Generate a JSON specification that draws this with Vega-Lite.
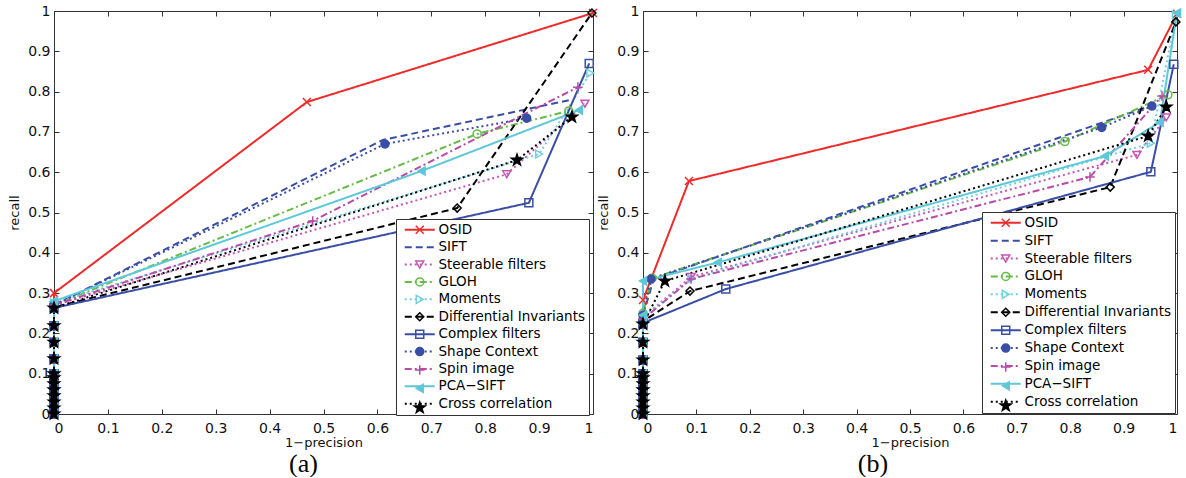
{
  "$schema": "https://vega.github.io/schema/vega-lite/v6.json",
  "padding": {"left": 8, "top": 4, "right": 0, "bottom": 0},
  "spacing": -3,
  "config": {
    "font": "DejaVu Sans",
    "view": {"stroke": null},
    "axis": {"grid": false, "domainColor": "#333", "tickColor": "#333", "labelColor": "#111", "labelFont": "DejaVu Sans", "labelFontSize": 14, "titleFont": "DejaVu Sans", "titleFontSize": 13, "titleFontWeight": "normal", "titleColor": "#111"}
  },
  "resolve": {"scale": {"color": "independent", "strokeDash": "independent", "shape": "independent", "fill": "independent", "stroke": "independent"}},
  "datasets": {
    "a": [
      {"m":"OSID","x":0,"y":0},{"m":"OSID","x":0,"y":0.015},{"m":"OSID","x":0,"y":0.03},{"m":"OSID","x":0,"y":0.045},{"m":"OSID","x":0,"y":0.06},{"m":"OSID","x":0,"y":0.075},{"m":"OSID","x":0,"y":0.09},{"m":"OSID","x":0,"y":0.1},{"m":"OSID","x":0,"y":0.137},{"m":"OSID","x":0,"y":0.178},{"m":"OSID","x":0,"y":0.219},{"m":"OSID","x":0,"y":0.30},{"m":"OSID","x":0.469,"y":0.774},{"m":"OSID","x":1,"y":0.995},
      {"m":"SIFT","x":0,"y":0},{"m":"SIFT","x":0,"y":0.015},{"m":"SIFT","x":0,"y":0.03},{"m":"SIFT","x":0,"y":0.045},{"m":"SIFT","x":0,"y":0.06},{"m":"SIFT","x":0,"y":0.075},{"m":"SIFT","x":0,"y":0.09},{"m":"SIFT","x":0,"y":0.1},{"m":"SIFT","x":0,"y":0.137},{"m":"SIFT","x":0,"y":0.178},{"m":"SIFT","x":0,"y":0.219},{"m":"SIFT","x":0,"y":0.27},{"m":"SIFT","x":0.61,"y":0.68},{"m":"SIFT","x":0.96,"y":0.78},
      {"m":"Steerable filters","x":0,"y":0},{"m":"Steerable filters","x":0,"y":0.015},{"m":"Steerable filters","x":0,"y":0.03},{"m":"Steerable filters","x":0,"y":0.045},{"m":"Steerable filters","x":0,"y":0.06},{"m":"Steerable filters","x":0,"y":0.075},{"m":"Steerable filters","x":0,"y":0.09},{"m":"Steerable filters","x":0,"y":0.1},{"m":"Steerable filters","x":0,"y":0.137},{"m":"Steerable filters","x":0,"y":0.178},{"m":"Steerable filters","x":0,"y":0.219},{"m":"Steerable filters","x":0,"y":0.27},{"m":"Steerable filters","x":0.84,"y":0.595},{"m":"Steerable filters","x":0.985,"y":0.77},
      {"m":"GLOH","x":0,"y":0},{"m":"GLOH","x":0,"y":0.015},{"m":"GLOH","x":0,"y":0.03},{"m":"GLOH","x":0,"y":0.045},{"m":"GLOH","x":0,"y":0.06},{"m":"GLOH","x":0,"y":0.075},{"m":"GLOH","x":0,"y":0.09},{"m":"GLOH","x":0,"y":0.1},{"m":"GLOH","x":0,"y":0.137},{"m":"GLOH","x":0,"y":0.178},{"m":"GLOH","x":0,"y":0.219},{"m":"GLOH","x":0,"y":0.27},{"m":"GLOH","x":0.785,"y":0.695},{"m":"GLOH","x":0.955,"y":0.752},
      {"m":"Moments","x":0,"y":0},{"m":"Moments","x":0,"y":0.015},{"m":"Moments","x":0,"y":0.03},{"m":"Moments","x":0,"y":0.045},{"m":"Moments","x":0,"y":0.06},{"m":"Moments","x":0,"y":0.075},{"m":"Moments","x":0,"y":0.09},{"m":"Moments","x":0,"y":0.1},{"m":"Moments","x":0,"y":0.137},{"m":"Moments","x":0,"y":0.178},{"m":"Moments","x":0,"y":0.219},{"m":"Moments","x":0,"y":0.275},{"m":"Moments","x":0.9,"y":0.645},{"m":"Moments","x":0.995,"y":0.846},
      {"m":"Differential Invariants","x":0,"y":0},{"m":"Differential Invariants","x":0,"y":0.015},{"m":"Differential Invariants","x":0,"y":0.03},{"m":"Differential Invariants","x":0,"y":0.045},{"m":"Differential Invariants","x":0,"y":0.06},{"m":"Differential Invariants","x":0,"y":0.075},{"m":"Differential Invariants","x":0,"y":0.09},{"m":"Differential Invariants","x":0,"y":0.1},{"m":"Differential Invariants","x":0,"y":0.137},{"m":"Differential Invariants","x":0,"y":0.178},{"m":"Differential Invariants","x":0,"y":0.219},{"m":"Differential Invariants","x":0,"y":0.265},{"m":"Differential Invariants","x":0.748,"y":0.511},{"m":"Differential Invariants","x":0.998,"y":0.995},
      {"m":"Complex filters","x":0,"y":0},{"m":"Complex filters","x":0,"y":0.015},{"m":"Complex filters","x":0,"y":0.03},{"m":"Complex filters","x":0,"y":0.045},{"m":"Complex filters","x":0,"y":0.06},{"m":"Complex filters","x":0,"y":0.075},{"m":"Complex filters","x":0,"y":0.09},{"m":"Complex filters","x":0,"y":0.1},{"m":"Complex filters","x":0,"y":0.137},{"m":"Complex filters","x":0,"y":0.178},{"m":"Complex filters","x":0,"y":0.219},{"m":"Complex filters","x":0,"y":0.263},{"m":"Complex filters","x":0.881,"y":0.524},{"m":"Complex filters","x":0.993,"y":0.87},
      {"m":"Shape Context","x":0,"y":0},{"m":"Shape Context","x":0,"y":0.015},{"m":"Shape Context","x":0,"y":0.03},{"m":"Shape Context","x":0,"y":0.045},{"m":"Shape Context","x":0,"y":0.06},{"m":"Shape Context","x":0,"y":0.075},{"m":"Shape Context","x":0,"y":0.09},{"m":"Shape Context","x":0,"y":0.1},{"m":"Shape Context","x":0,"y":0.137},{"m":"Shape Context","x":0,"y":0.178},{"m":"Shape Context","x":0,"y":0.219},{"m":"Shape Context","x":0,"y":0.27},{"m":"Shape Context","x":0.614,"y":0.67},{"m":"Shape Context","x":0.877,"y":0.734},
      {"m":"Spin image","x":0,"y":0},{"m":"Spin image","x":0,"y":0.015},{"m":"Spin image","x":0,"y":0.03},{"m":"Spin image","x":0,"y":0.045},{"m":"Spin image","x":0,"y":0.06},{"m":"Spin image","x":0,"y":0.075},{"m":"Spin image","x":0,"y":0.09},{"m":"Spin image","x":0,"y":0.1},{"m":"Spin image","x":0,"y":0.137},{"m":"Spin image","x":0,"y":0.178},{"m":"Spin image","x":0,"y":0.219},{"m":"Spin image","x":0,"y":0.27},{"m":"Spin image","x":0.48,"y":0.479},{"m":"Spin image","x":0.972,"y":0.811},
      {"m":"PCA−SIFT","x":0,"y":0},{"m":"PCA−SIFT","x":0,"y":0.015},{"m":"PCA−SIFT","x":0,"y":0.03},{"m":"PCA−SIFT","x":0,"y":0.045},{"m":"PCA−SIFT","x":0,"y":0.06},{"m":"PCA−SIFT","x":0,"y":0.075},{"m":"PCA−SIFT","x":0,"y":0.09},{"m":"PCA−SIFT","x":0,"y":0.1},{"m":"PCA−SIFT","x":0,"y":0.137},{"m":"PCA−SIFT","x":0,"y":0.178},{"m":"PCA−SIFT","x":0,"y":0.219},{"m":"PCA−SIFT","x":0,"y":0.28},{"m":"PCA−SIFT","x":0.682,"y":0.603},{"m":"PCA−SIFT","x":0.974,"y":0.754},
      {"m":"Cross correlation","x":0,"y":0},{"m":"Cross correlation","x":0,"y":0.015},{"m":"Cross correlation","x":0,"y":0.03},{"m":"Cross correlation","x":0,"y":0.045},{"m":"Cross correlation","x":0,"y":0.06},{"m":"Cross correlation","x":0,"y":0.075},{"m":"Cross correlation","x":0,"y":0.09},{"m":"Cross correlation","x":0,"y":0.1},{"m":"Cross correlation","x":0,"y":0.137},{"m":"Cross correlation","x":0,"y":0.178},{"m":"Cross correlation","x":0,"y":0.219},{"m":"Cross correlation","x":0,"y":0.263},{"m":"Cross correlation","x":0.859,"y":0.63},{"m":"Cross correlation","x":0.961,"y":0.737}
    ],
    "b": [
      {"m":"OSID","x":0,"y":0},{"m":"OSID","x":0,"y":0.015},{"m":"OSID","x":0,"y":0.03},{"m":"OSID","x":0,"y":0.045},{"m":"OSID","x":0,"y":0.06},{"m":"OSID","x":0,"y":0.075},{"m":"OSID","x":0,"y":0.09},{"m":"OSID","x":0,"y":0.1},{"m":"OSID","x":0,"y":0.134},{"m":"OSID","x":0,"y":0.178},{"m":"OSID","x":0,"y":0.223},{"m":"OSID","x":0,"y":0.283},{"m":"OSID","x":0.086,"y":0.578},{"m":"OSID","x":0.946,"y":0.854},{"m":"OSID","x":1,"y":0.993},
      {"m":"SIFT","x":0,"y":0},{"m":"SIFT","x":0,"y":0.015},{"m":"SIFT","x":0,"y":0.03},{"m":"SIFT","x":0,"y":0.045},{"m":"SIFT","x":0,"y":0.06},{"m":"SIFT","x":0,"y":0.075},{"m":"SIFT","x":0,"y":0.09},{"m":"SIFT","x":0,"y":0.1},{"m":"SIFT","x":0,"y":0.134},{"m":"SIFT","x":0,"y":0.178},{"m":"SIFT","x":0,"y":0.223},{"m":"SIFT","x":0,"y":0.245},{"m":"SIFT","x":0.02,"y":0.335},{"m":"SIFT","x":0.953,"y":0.766},
      {"m":"Steerable filters","x":0,"y":0},{"m":"Steerable filters","x":0,"y":0.015},{"m":"Steerable filters","x":0,"y":0.03},{"m":"Steerable filters","x":0,"y":0.045},{"m":"Steerable filters","x":0,"y":0.06},{"m":"Steerable filters","x":0,"y":0.075},{"m":"Steerable filters","x":0,"y":0.09},{"m":"Steerable filters","x":0,"y":0.1},{"m":"Steerable filters","x":0,"y":0.134},{"m":"Steerable filters","x":0,"y":0.178},{"m":"Steerable filters","x":0,"y":0.223},{"m":"Steerable filters","x":0,"y":0.24},{"m":"Steerable filters","x":0.09,"y":0.34},{"m":"Steerable filters","x":0.925,"y":0.643},{"m":"Steerable filters","x":0.98,"y":0.736},
      {"m":"GLOH","x":0,"y":0},{"m":"GLOH","x":0,"y":0.015},{"m":"GLOH","x":0,"y":0.03},{"m":"GLOH","x":0,"y":0.045},{"m":"GLOH","x":0,"y":0.06},{"m":"GLOH","x":0,"y":0.075},{"m":"GLOH","x":0,"y":0.09},{"m":"GLOH","x":0,"y":0.1},{"m":"GLOH","x":0,"y":0.134},{"m":"GLOH","x":0,"y":0.178},{"m":"GLOH","x":0,"y":0.223},{"m":"GLOH","x":0,"y":0.25},{"m":"GLOH","x":0.017,"y":0.337},{"m":"GLOH","x":0.79,"y":0.676},{"m":"GLOH","x":0.983,"y":0.792},
      {"m":"Moments","x":0,"y":0},{"m":"Moments","x":0,"y":0.015},{"m":"Moments","x":0,"y":0.03},{"m":"Moments","x":0,"y":0.045},{"m":"Moments","x":0,"y":0.06},{"m":"Moments","x":0,"y":0.075},{"m":"Moments","x":0,"y":0.09},{"m":"Moments","x":0,"y":0.1},{"m":"Moments","x":0,"y":0.134},{"m":"Moments","x":0,"y":0.178},{"m":"Moments","x":0,"y":0.223},{"m":"Moments","x":0,"y":0.24},{"m":"Moments","x":0.09,"y":0.335},{"m":"Moments","x":0.951,"y":0.672},{"m":"Moments","x":0.998,"y":0.99},
      {"m":"Differential Invariants","x":0,"y":0},{"m":"Differential Invariants","x":0,"y":0.015},{"m":"Differential Invariants","x":0,"y":0.03},{"m":"Differential Invariants","x":0,"y":0.045},{"m":"Differential Invariants","x":0,"y":0.06},{"m":"Differential Invariants","x":0,"y":0.075},{"m":"Differential Invariants","x":0,"y":0.09},{"m":"Differential Invariants","x":0,"y":0.1},{"m":"Differential Invariants","x":0,"y":0.134},{"m":"Differential Invariants","x":0,"y":0.178},{"m":"Differential Invariants","x":0,"y":0.223},{"m":"Differential Invariants","x":0,"y":0.23},{"m":"Differential Invariants","x":0.088,"y":0.305},{"m":"Differential Invariants","x":0.875,"y":0.563},{"m":"Differential Invariants","x":0.998,"y":0.973},
      {"m":"Complex filters","x":0,"y":0},{"m":"Complex filters","x":0,"y":0.015},{"m":"Complex filters","x":0,"y":0.03},{"m":"Complex filters","x":0,"y":0.045},{"m":"Complex filters","x":0,"y":0.06},{"m":"Complex filters","x":0,"y":0.075},{"m":"Complex filters","x":0,"y":0.09},{"m":"Complex filters","x":0,"y":0.1},{"m":"Complex filters","x":0,"y":0.134},{"m":"Complex filters","x":0,"y":0.178},{"m":"Complex filters","x":0,"y":0.223},{"m":"Complex filters","x":0,"y":0.226},{"m":"Complex filters","x":0.155,"y":0.31},{"m":"Complex filters","x":0.951,"y":0.601},{"m":"Complex filters","x":0.994,"y":0.868},
      {"m":"Shape Context","x":0,"y":0},{"m":"Shape Context","x":0,"y":0.015},{"m":"Shape Context","x":0,"y":0.03},{"m":"Shape Context","x":0,"y":0.045},{"m":"Shape Context","x":0,"y":0.06},{"m":"Shape Context","x":0,"y":0.075},{"m":"Shape Context","x":0,"y":0.09},{"m":"Shape Context","x":0,"y":0.1},{"m":"Shape Context","x":0,"y":0.134},{"m":"Shape Context","x":0,"y":0.178},{"m":"Shape Context","x":0,"y":0.223},{"m":"Shape Context","x":0,"y":0.245},{"m":"Shape Context","x":0.015,"y":0.335},{"m":"Shape Context","x":0.859,"y":0.711},{"m":"Shape Context","x":0.953,"y":0.764},
      {"m":"Spin image","x":0,"y":0},{"m":"Spin image","x":0,"y":0.015},{"m":"Spin image","x":0,"y":0.03},{"m":"Spin image","x":0,"y":0.045},{"m":"Spin image","x":0,"y":0.06},{"m":"Spin image","x":0,"y":0.075},{"m":"Spin image","x":0,"y":0.09},{"m":"Spin image","x":0,"y":0.1},{"m":"Spin image","x":0,"y":0.134},{"m":"Spin image","x":0,"y":0.178},{"m":"Spin image","x":0,"y":0.223},{"m":"Spin image","x":0,"y":0.235},{"m":"Spin image","x":0.09,"y":0.335},{"m":"Spin image","x":0.837,"y":0.588},{"m":"Spin image","x":0.972,"y":0.789},
      {"m":"PCA−SIFT","x":0,"y":0},{"m":"PCA−SIFT","x":0,"y":0.015},{"m":"PCA−SIFT","x":0,"y":0.03},{"m":"PCA−SIFT","x":0,"y":0.045},{"m":"PCA−SIFT","x":0,"y":0.06},{"m":"PCA−SIFT","x":0,"y":0.075},{"m":"PCA−SIFT","x":0,"y":0.09},{"m":"PCA−SIFT","x":0,"y":0.1},{"m":"PCA−SIFT","x":0,"y":0.134},{"m":"PCA−SIFT","x":0,"y":0.178},{"m":"PCA−SIFT","x":0,"y":0.223},{"m":"PCA−SIFT","x":0,"y":0.245},{"m":"PCA−SIFT","x":0,"y":0.33},{"m":"PCA−SIFT","x":0.14,"y":0.376},{"m":"PCA−SIFT","x":0.865,"y":0.64},{"m":"PCA−SIFT","x":0.968,"y":0.724},{"m":"PCA−SIFT","x":1,"y":0.995},
      {"m":"Cross correlation","x":0,"y":0},{"m":"Cross correlation","x":0,"y":0.015},{"m":"Cross correlation","x":0,"y":0.03},{"m":"Cross correlation","x":0,"y":0.045},{"m":"Cross correlation","x":0,"y":0.06},{"m":"Cross correlation","x":0,"y":0.075},{"m":"Cross correlation","x":0,"y":0.09},{"m":"Cross correlation","x":0,"y":0.1},{"m":"Cross correlation","x":0,"y":0.134},{"m":"Cross correlation","x":0,"y":0.178},{"m":"Cross correlation","x":0,"y":0.223},{"m":"Cross correlation","x":0.041,"y":0.33},{"m":"Cross correlation","x":0.946,"y":0.69},{"m":"Cross correlation","x":0.98,"y":0.762}
    ]
  },
  "hconcat": [
    {
      "width": 539, "height": 403,
      "data": {"name": "a"},
      "title": {"text": "(a)", "orient": "bottom", "font": "Liberation Serif", "fontSize": 26, "fontWeight": "normal", "color": "#000", "offset": 2, "anchor": "middle", "dx": -20},
      "resolve": {"axis": {"x": "independent", "y": "independent"}},
      "layer": [
        {
          "mark": {"type": "line", "strokeWidth": 2, "strokeCap": "butt"},
          "encoding": {
            "x": {"field": "x", "type": "quantitative", "scale": {"domain": [0, 1], "nice": false}, "axis": {"orient": "bottom", "title": "1−precision", "values": [0,0.1,0.2,0.3,0.4,0.5,0.6,0.7,0.8,0.9,1], "format": "~g", "tickSize": -5, "labelPadding": 12, "titlePadding": 1}},
            "y": {"field": "y", "type": "quantitative", "scale": {"domain": [0, 1], "nice": false}, "axis": {"orient": "left", "title": "recall", "values": [0,0.1,0.2,0.3,0.4,0.5,0.6,0.7,0.8,0.9,1], "format": "~g", "tickSize": -5, "labelPadding": 9, "titlePadding": 6}},
            "color": {"field": "m", "type": "nominal",
              "scale": {"domain": ["OSID","SIFT","Steerable filters","GLOH","Moments","Differential Invariants","Complex filters","Shape Context","Spin image","PCA−SIFT","Cross correlation"], "range": ["#ee2b2b","#3b4ea6","#c455b2","#66bb47","#72d0e0","#000000","#3b4ea6","#3b4ea6","#b84aa8","#5ec7d8","#000000"]},
              "legend": {"orient": "none", "legendX": 342, "legendY": 208, "title": null, "symbolType": "M-3.75,0H3.75", "symbolSize": 64, "symbolStrokeWidth": 2, "labelFont": "DejaVu Sans", "labelFontSize": 13.5, "labelColor": "#000", "labelOffset": 12, "labelLimit": 300, "padding": 4, "rowPadding": 2.4, "strokeColor": "#333", "fillColor": "white", "symbolOffset": 13}},
            "strokeDash": {"field": "m", "type": "nominal",
              "scale": {"domain": ["OSID","SIFT","Steerable filters","GLOH","Moments","Differential Invariants","Complex filters","Shape Context","Spin image","PCA−SIFT","Cross correlation"], "range": [[1,0],[7,4],[2,3],[7,3,2,3],[2,3],[7,4],[1,0],[2,3],[7,3,2,3],[1,0],[2,3]]},
              "legend": {"orient": "none", "legendX": 342, "legendY": 208, "title": null, "symbolType": "M-3.75,0H3.75", "symbolSize": 64, "symbolStrokeWidth": 2, "labelFont": "DejaVu Sans", "labelFontSize": 13.5, "labelColor": "#000", "labelOffset": 12, "labelLimit": 300, "padding": 4, "rowPadding": 2.4, "strokeColor": "#333", "fillColor": "white", "symbolOffset": 13}},
            "order": {"field": "y", "type": "quantitative"}
          }
        },
        {
          "mark": {"type": "point", "filled": true, "opacity": 1, "strokeWidth": 1.5, "size": 64},
          "encoding": {
            "x": {"field": "x", "type": "quantitative", "axis": {"orient": "top", "labels": false, "title": null, "values": [0,0.1,0.2,0.3,0.4,0.5,0.6,0.7,0.8,0.9,1], "tickSize": -5, "minExtent": 0}},
            "y": {"field": "y", "type": "quantitative", "axis": {"orient": "right", "labels": false, "title": null, "values": [0,0.1,0.2,0.3,0.4,0.5,0.6,0.7,0.8,0.9,1], "tickSize": -5, "minExtent": 0}},
            "shape": {"field": "m", "type": "nominal",
              "scale": {"domain": ["OSID","SIFT","Steerable filters","GLOH","Moments","Differential Invariants","Complex filters","Shape Context","Spin image","PCA−SIFT","Cross correlation"," "], "range": ["M-1,-1L1,1M-1,1L1,-1","M0,0","triangle-down","circle","triangle-right","diamond","square","circle","M-1.2,0H1.2M0,-1.2V1.2","triangle-left","M0,-1.45L0.34,-0.47L1.38,-0.45L0.55,0.18L0.85,1.17L0,0.58L-0.85,1.17L-0.55,0.18L-1.38,-0.45L-0.34,-0.47Z","M0,0"]},
              "legend": {"orient": "none", "legendX": 342, "legendY": 208, "title": null, "symbolSize": 64, "symbolStrokeWidth": 1.5, "labelFont": "DejaVu Sans", "labelFontSize": 13.5, "labelOpacity": 0, "labelExpr": "' '", "labelOffset": 12, "labelLimit": 300, "padding": 4, "rowPadding": 2.4, "symbolOffset": 13}},
            "stroke": {"field": "m", "type": "nominal",
              "scale": {"domain": ["OSID","SIFT","Steerable filters","GLOH","Moments","Differential Invariants","Complex filters","Shape Context","Spin image","PCA−SIFT","Cross correlation"," "], "range": ["#ee2b2b","#3b4ea6","#c455b2","#66bb47","#72d0e0","#000000","#3b4ea6","#3b4ea6","#b84aa8","#5ec7d8","#000000","transparent"]},
              "legend": {"orient": "none", "legendX": 342, "legendY": 208, "title": null, "symbolSize": 64, "symbolStrokeWidth": 1.5, "labelFont": "DejaVu Sans", "labelFontSize": 13.5, "labelOpacity": 0, "labelExpr": "' '", "labelOffset": 12, "labelLimit": 300, "padding": 4, "rowPadding": 2.4, "symbolOffset": 13}},
            "fill": {"field": "m", "type": "nominal",
              "scale": {"domain": ["OSID","SIFT","Steerable filters","GLOH","Moments","Differential Invariants","Complex filters","Shape Context","Spin image","PCA−SIFT","Cross correlation"," "], "range": ["transparent","transparent","transparent","transparent","transparent","transparent","transparent","#3b4ea6","transparent","#5ec7d8","#000000","transparent"]},
              "legend": {"orient": "none", "legendX": 342, "legendY": 208, "title": null, "symbolSize": 64, "symbolStrokeWidth": 1.5, "labelFont": "DejaVu Sans", "labelFontSize": 13.5, "labelOpacity": 0, "labelExpr": "' '", "labelOffset": 12, "labelLimit": 300, "padding": 4, "rowPadding": 2.4, "symbolOffset": 13}}
          }
        }
      ]
    },
    {
      "width": 534, "height": 403,
      "data": {"name": "b"},
      "title": {"text": "(b)", "orient": "bottom", "font": "Liberation Serif", "fontSize": 26, "fontWeight": "normal", "color": "#000", "offset": 2, "anchor": "middle", "dx": -37},
      "resolve": {"axis": {"x": "independent", "y": "independent"}},
      "layer": [
        {
          "mark": {"type": "line", "strokeWidth": 2, "strokeCap": "butt"},
          "encoding": {
            "x": {"field": "x", "type": "quantitative", "scale": {"domain": [0, 1], "nice": false}, "axis": {"orient": "bottom", "title": "1−precision", "values": [0,0.1,0.2,0.3,0.4,0.5,0.6,0.7,0.8,0.9,1], "format": "~g", "tickSize": -5, "labelPadding": 12, "titlePadding": 1}},
            "y": {"field": "y", "type": "quantitative", "scale": {"domain": [0, 1], "nice": false}, "axis": {"orient": "left", "title": "recall", "values": [0,0.1,0.2,0.3,0.4,0.5,0.6,0.7,0.8,0.9,1], "format": "~g", "tickSize": -5, "labelPadding": 9, "titlePadding": 6}},
            "color": {"field": "m", "type": "nominal",
              "scale": {"domain": ["OSID","SIFT","Steerable filters","GLOH","Moments","Differential Invariants","Complex filters","Shape Context","Spin image","PCA−SIFT","Cross correlation"], "range": ["#ee2b2b","#3b4ea6","#c455b2","#66bb47","#72d0e0","#000000","#3b4ea6","#3b4ea6","#b84aa8","#5ec7d8","#000000"]},
              "legend": {"orient": "none", "legendX": 339, "legendY": 201, "title": null, "symbolType": "M-3.75,0H3.75", "symbolSize": 64, "symbolStrokeWidth": 2, "labelFont": "DejaVu Sans", "labelFontSize": 13.5, "labelColor": "#000", "labelOffset": 12, "labelLimit": 300, "padding": 4, "rowPadding": 2.9, "strokeColor": "#333", "fillColor": "white", "symbolOffset": 13}},
            "strokeDash": {"field": "m", "type": "nominal",
              "scale": {"domain": ["OSID","SIFT","Steerable filters","GLOH","Moments","Differential Invariants","Complex filters","Shape Context","Spin image","PCA−SIFT","Cross correlation"], "range": [[1,0],[7,4],[2,3],[7,3,2,3],[2,3],[7,4],[1,0],[2,3],[7,3,2,3],[1,0],[2,3]]},
              "legend": {"orient": "none", "legendX": 339, "legendY": 201, "title": null, "symbolType": "M-3.75,0H3.75", "symbolSize": 64, "symbolStrokeWidth": 2, "labelFont": "DejaVu Sans", "labelFontSize": 13.5, "labelColor": "#000", "labelOffset": 12, "labelLimit": 300, "padding": 4, "rowPadding": 2.9, "strokeColor": "#333", "fillColor": "white", "symbolOffset": 13}},
            "order": {"field": "y", "type": "quantitative"}
          }
        },
        {
          "mark": {"type": "point", "filled": true, "opacity": 1, "strokeWidth": 1.5, "size": 64},
          "encoding": {
            "x": {"field": "x", "type": "quantitative", "axis": {"orient": "top", "labels": false, "title": null, "values": [0,0.1,0.2,0.3,0.4,0.5,0.6,0.7,0.8,0.9,1], "tickSize": -5, "minExtent": 0}},
            "y": {"field": "y", "type": "quantitative", "axis": {"orient": "right", "labels": false, "title": null, "values": [0,0.1,0.2,0.3,0.4,0.5,0.6,0.7,0.8,0.9,1], "tickSize": -5, "minExtent": 0}},
            "shape": {"field": "m", "type": "nominal",
              "scale": {"domain": ["OSID","SIFT","Steerable filters","GLOH","Moments","Differential Invariants","Complex filters","Shape Context","Spin image","PCA−SIFT","Cross correlation"," "], "range": ["M-1,-1L1,1M-1,1L1,-1","M0,0","triangle-down","circle","triangle-right","diamond","square","circle","M-1.2,0H1.2M0,-1.2V1.2","triangle-left","M0,-1.45L0.34,-0.47L1.38,-0.45L0.55,0.18L0.85,1.17L0,0.58L-0.85,1.17L-0.55,0.18L-1.38,-0.45L-0.34,-0.47Z","M0,0"]},
              "legend": {"orient": "none", "legendX": 339, "legendY": 201, "title": null, "symbolSize": 64, "symbolStrokeWidth": 1.5, "labelFont": "DejaVu Sans", "labelFontSize": 13.5, "labelOpacity": 0, "labelExpr": "' '", "labelOffset": 12, "labelLimit": 300, "padding": 4, "rowPadding": 2.9, "symbolOffset": 13}},
            "stroke": {"field": "m", "type": "nominal",
              "scale": {"domain": ["OSID","SIFT","Steerable filters","GLOH","Moments","Differential Invariants","Complex filters","Shape Context","Spin image","PCA−SIFT","Cross correlation"," "], "range": ["#ee2b2b","#3b4ea6","#c455b2","#66bb47","#72d0e0","#000000","#3b4ea6","#3b4ea6","#b84aa8","#5ec7d8","#000000","transparent"]},
              "legend": {"orient": "none", "legendX": 339, "legendY": 201, "title": null, "symbolSize": 64, "symbolStrokeWidth": 1.5, "labelFont": "DejaVu Sans", "labelFontSize": 13.5, "labelOpacity": 0, "labelExpr": "' '", "labelOffset": 12, "labelLimit": 300, "padding": 4, "rowPadding": 2.9, "symbolOffset": 13}},
            "fill": {"field": "m", "type": "nominal",
              "scale": {"domain": ["OSID","SIFT","Steerable filters","GLOH","Moments","Differential Invariants","Complex filters","Shape Context","Spin image","PCA−SIFT","Cross correlation"," "], "range": ["transparent","transparent","transparent","transparent","transparent","transparent","transparent","#3b4ea6","transparent","#5ec7d8","#000000","transparent"]},
              "legend": {"orient": "none", "legendX": 339, "legendY": 201, "title": null, "symbolSize": 64, "symbolStrokeWidth": 1.5, "labelFont": "DejaVu Sans", "labelFontSize": 13.5, "labelOpacity": 0, "labelExpr": "' '", "labelOffset": 12, "labelLimit": 300, "padding": 4, "rowPadding": 2.9, "symbolOffset": 13}}
          }
        }
      ]
    }
  ]
}
